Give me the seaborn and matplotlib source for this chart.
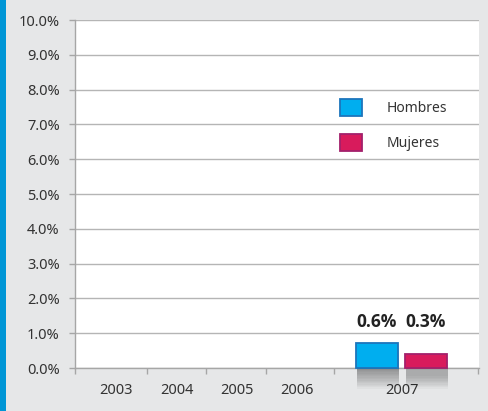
import matplotlib
matplotlib.use("Agg")
import numpy as np
import pandas as pd
import seaborn as sns
import matplotlib.pyplot as plt
from matplotlib import patheffects as pe
from matplotlib.patches import Rectangle

# ---- data ----
years = ["2003", "2004", "2005", "2006", "2007"]
hombres = [np.nan, np.nan, np.nan, np.nan, 0.72]
mujeres = [np.nan, np.nan, np.nan, np.nan, 0.40]
hombres_labels = ["", "", "", "", "0.6%"]
mujeres_labels = ["", "", "", "", "0.3%"]
series = ["Hombres", "Mujeres"]
y_ticks = [0, 1, 2, 3, 4, 5, 6, 7, 8, 9, 10]

# ---- style / layout ----
face_colors = {"Hombres": "#00aeef", "Mujeres": "#d81b5c"}
edge_colors = {"Hombres": "#1c75bc", "Mujeres": "#a3206b"}
year_centers = [41, 102, 162, 222, 327]        # axis units (px-like)
boundaries = [0, 72, 131, 191, 259, 403]
offsets = {"Hombres": -25, "Mujeres": 24}

sns.set_theme(style="white")
plt.rcParams["font.family"] = ["Noto Sans", "DejaVu Sans"]

W, H = 488, 411
fig = plt.figure(figsize=(W / 100, H / 100), dpi=100, facecolor="#e6e7e8")
ax = fig.add_axes([75 / W, 43 / H, 404 / W, 348 / H])
ax.set_facecolor("white")

rows = []
for i, y in enumerate(years):
    for s, vals, labs in (("Hombres", hombres, hombres_labels), ("Mujeres", mujeres, mujeres_labels)):
        if not np.isnan(vals[i]):
            rows.append({"year": y, "serie": s, "valor": vals[i], "label": labs[i],
                         "pos": year_centers[i] + offsets[s]})
df = pd.DataFrame(rows)

sns.barplot(data=df, x="pos", y="valor", hue="serie", hue_order=series,
            native_scale=True, dodge=False, palette=face_colors,
            width=42 / 49, saturation=1, ax=ax, legend=True)

shadow = [pe.SimplePatchShadow(offset=(0.5, -d), shadow_rgbFace="#000000", alpha=0.028)
          for d in range(1, 16)] + [pe.Normal()]
for cont, s in zip(ax.containers, series):
    for p in cont.patches:
        p.set_edgecolor(edge_colors[s])
        p.set_linewidth(1.3)
        p.set_clip_on(False)
        p.set_path_effects(shadow)
        p.set_zorder(3)

for _, r in df.iterrows():
    ax.text(r["pos"], 1.32, r["label"], ha="center", va="center",
            fontsize=12.5, fontweight="bold", color="#222222",
            family=["Open Sans", "Liberation Sans", "DejaVu Sans"])

ax.set_xlim(0, 404)
ax.set_ylim(0, 10)
ax.set_xlabel("")
ax.set_ylabel("")

ax.set_xticks(year_centers)
ax.set_xticklabels(years)
ax.set_xticks(boundaries, minor=True)
ax.tick_params(axis="x", which="major", length=0, pad=11, labelsize=10.5, labelcolor="#333333")
ax.tick_params(axis="x", which="minor", length=4, width=1, color="#a6a6a6", bottom=True)
ax.set_yticks(y_ticks)
ax.set_yticklabels([f"{v:.1f}%" for v in y_ticks])
ax.tick_params(axis="y", length=4, width=1, color="#a6a6a6", left=True, pad=7,
               labelsize=10.5, labelcolor="#333333")

ax.yaxis.grid(True, color="#b5b5b5", linewidth=1)
ax.set_axisbelow(True)
for side in ("top", "right"):
    ax.spines[side].set_visible(False)
for side in ("left", "bottom"):
    ax.spines[side].set_color("#a6a6a6")
    ax.spines[side].set_linewidth(1)

handles, labels = ax.get_legend_handles_labels()
if ax.get_legend() is not None:
    ax.get_legend().remove()
leg = ax.legend(handles, labels, loc="upper left",
                bbox_to_anchor=(340 / W, 1 - 99 / H), bbox_transform=fig.transFigure,
                frameon=False, fontsize=10, handlelength=1.58, handleheight=1.5,
                handletextpad=1.8, labelspacing=1.3, borderpad=0, borderaxespad=0)
for p, s in zip(leg.get_patches(), labels):
    p.set_edgecolor(edge_colors[s])
    p.set_linewidth(1.3)
for t in leg.get_texts():
    t.set_color("#333333")

fig.patches.append(Rectangle((0, 0), 6 / W, 1, transform=fig.transFigure,
                             facecolor="#0096d6", edgecolor="none"))

fig.savefig("out.png", dpi=100, facecolor=fig.get_facecolor())
